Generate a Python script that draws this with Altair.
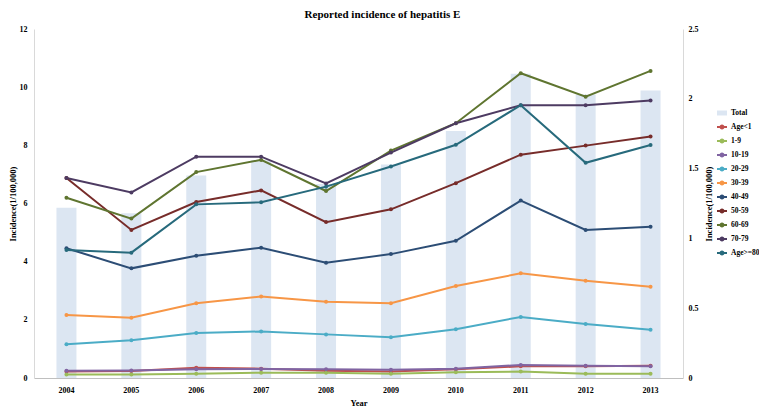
import altair as alt
import pandas as pd

years = ["2004", "2005", "2006", "2007", "2008", "2009", "2010", "2011", "2012", "2013"]

# Total incidence (right axis)
total = [1.22, 1.18, 1.45, 1.56, 1.39, 1.53, 1.77, 2.18, 2.03, 2.06]

groups = ["Age<1", "1-9", "10-19", "20-29", "30-39", "40-49", "50-59", "60-69", "70-79", "Age>=80"]
colors = ["#c0504d", "#9bbb59", "#8064a2", "#4bacc6", "#f79646", "#2c4d75", "#772c2a", "#5f7530", "#4d3b62", "#276a7c"]

age_lt1 = [0.22, 0.24, 0.35, 0.32, 0.25, 0.22, 0.30, 0.40, 0.40, 0.42]
age_1_9 = [0.12, 0.12, 0.15, 0.18, 0.18, 0.15, 0.20, 0.22, 0.15, 0.15]
age_10_19 = [0.25, 0.26, 0.30, 0.31, 0.30, 0.28, 0.32, 0.45, 0.42, 0.40]
age_20_29 = [1.16, 1.30, 1.55, 1.60, 1.50, 1.40, 1.68, 2.10, 1.86, 1.66]
age_30_39 = [2.17, 2.07, 2.57, 2.80, 2.62, 2.57, 3.16, 3.60, 3.34, 3.14]
age_40_49 = [4.46, 3.77, 4.20, 4.48, 3.96, 4.26, 4.72, 6.10, 5.09, 5.20]
age_50_59 = [6.88, 5.09, 6.05, 6.45, 5.36, 5.80, 6.70, 7.68, 7.99, 8.30]
age_60_69 = [6.20, 5.48, 7.08, 7.50, 6.43, 7.82, 8.76, 10.48, 9.67, 10.56]
age_70_79 = [6.88, 6.38, 7.61, 7.61, 6.69, 7.75, 8.76, 9.38, 9.38, 9.54]
age_ge80 = [4.40, 4.31, 5.97, 6.04, 6.58, 7.27, 8.02, 9.38, 7.40, 8.01]

series = [age_lt1, age_1_9, age_10_19, age_20_29, age_30_39,
          age_40_49, age_50_59, age_60_69, age_70_79, age_ge80]

bar_df = pd.DataFrame({"Year": years, "Total": total, "Series": ["Total"] * len(years)})
rows = []
for g, vals in zip(groups, series):
    for y, v in zip(years, vals):
        rows.append({"Year": y, "Group": g, "Incidence": v})
line_df = pd.DataFrame(rows)

FONT = "Liberation Serif"

x_enc = alt.X("Year:N", sort=years, title="Year",
              scale=alt.Scale(paddingInner=0.0, paddingOuter=0.0),
              axis=alt.Axis(labelAngle=0, ticks=False, labelPadding=8, titlePadding=4,
                            domainColor="#bfbfbf"))

bars = alt.Chart(bar_df).mark_bar(size=20).encode(
    x=x_enc,
    y=alt.Y("Total:Q", scale=alt.Scale(domain=[0, 2.5]),
            axis=alt.Axis(orient="right", values=[0, 0.5, 1, 1.5, 2, 2.5], format="~g",
                          title="Incidence(1/100,000)", grid=False, ticks=False,
                          labelPadding=5, titleAngle=270, titleX=25, titleY=174.5,
                          titleAlign="center", titleBaseline="middle",
                          domainColor="#d9d9d9")),
    fill=alt.Fill("Series:N", scale=alt.Scale(domain=["Total"], range=["#dce6f2"]),
                  legend=alt.Legend(title=None, orient="none", legendX=682, legendY=78,
                                    symbolType="M-1,-0.5H1V0.5H-1Z", symbolSize=100,
                                    labelOffset=3,
                                    labelFontSize=7.5, labelFont=FONT, labelFontWeight="bold")),
)

lines = alt.Chart(line_df).mark_line(strokeWidth=2, point=alt.OverlayMarkDef(size=16, filled=True)).encode(
    x=x_enc,
    y=alt.Y("Incidence:Q", scale=alt.Scale(domain=[0, 12]),
            axis=alt.Axis(orient="left", values=[0, 2, 4, 6, 8, 10, 12],
                          title="Incidence(1/100,000)", ticks=False, labelPadding=7,
                          titlePadding=2, gridColor="#e0e0e0", domainColor="#d9d9d9")),
    color=alt.Color("Group:N", sort=groups, scale=alt.Scale(domain=groups, range=colors),
                    legend=alt.Legend(title=None, orient="none", legendX=682, legendY=92,
                                      symbolType="M-1,0L1,0M-0.3,0A0.3,0.3,0,1,1,0.3,0A0.3,0.3,0,1,1,-0.3,0",
                                      symbolSize=100, symbolStrokeWidth=2, rowPadding=2,
                                      labelOffset=3,
                                      labelFontSize=7.5, labelFont=FONT, labelFontWeight="bold")),
)

chart = alt.layer(bars, lines).resolve_scale(y="independent").properties(
    width=649, height=349,
    autosize="none",
    padding={"left": 26, "top": 21, "right": 76, "bottom": 29},
    title=alt.TitleParams("Reported incidence of hepatitis E", fontSize=11, font=FONT,
                          fontWeight="bold", offset=5, dx=24),
).configure_axis(
    labelFont=FONT, titleFont=FONT, labelFontSize=8, titleFontSize=8.5,
    labelFontWeight="bold", titleFontWeight="bold", labelColor="#000", titleColor="#000",
).configure_view(stroke=None)

chart.save("out.html", embed_options={"renderer": "svg", "actions": False})
